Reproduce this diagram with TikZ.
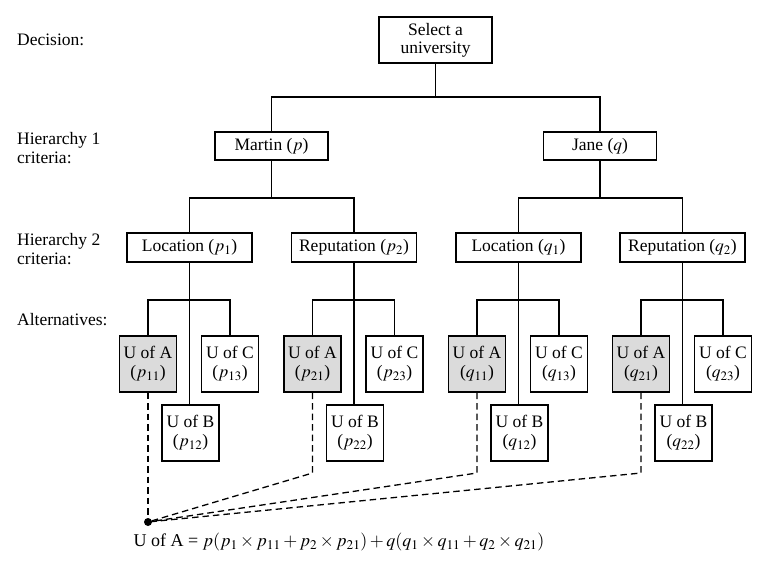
\documentclass[tikz,border=0pt]{standalone}
\usepackage{mathptmx}
\usepackage{fontspec}
\setmainfont{Liberation Serif}
\begin{document}
\begin{tikzpicture}[x=1pt,y=-1pt,
  every node/.style={font=\fontsize{17.5}{19}\selectfont},
  box/.style={draw,line width=1.3pt,inner sep=0pt,align=center},
  lvbox/.style={box,minimum width=113pt,minimum height=28pt},
  crbox/.style={box,minimum width=125pt,minimum height=29pt},
  altbox/.style={box,minimum width=57pt,minimum height=56pt},
  shaded/.style={fill=gray!28},
  link/.style={line width=1.3pt},
  dlink/.style={line width=1.3pt,dash pattern=on 6.5pt off 4pt},
  lab/.style={anchor=west,align=left,inner sep=0pt}]
\useasboundingbox (0,0) rectangle (764,573);

% row labels
\node[lab] (l0) at (17,40) {Decision:};
\node[lab] (l1) at (17,148) {Hierarchy 1\\criteria:};
\node[lab] (l2) at (17,249) {Hierarchy 2\\criteria:};
\node[lab] (l3) at (17,320) {Alternatives:};

% decision
\node[box,minimum width=113pt,minimum height=46pt,font=\fontsize{17.5}{18}\selectfont] (root) at (435.5,40) {Select a\\university};

% level 1
\node[lvbox] (martin) at (271.5,146) {Martin ($p$)};
\node[lvbox] (jane) at (600,146) {Jane ($q$)};

% level 2
\node[crbox] (lp1) at (189.5,247.5) {Location ($p_1$)};
\node[crbox] (rp2) at (354,247.5) {Reputation ($p_2$)};
\node[crbox] (lq1) at (518.5,247.5) {Location ($q_1$)};
\node[crbox] (rq2) at (682.5,247.5) {Reputation ($q_2$)};

% alternatives
\foreach \g/\c/\v/\i in {pa/189.5/p/1, pb/354/p/2, qa/518.5/q/1, qb/682.5/q/2}{
  \node[altbox,shaded] (\g A) at (\c-41.5,364) {U of A\\($\v_{\i1}$)};
  \node[altbox] (\g B) at (\c+1,433) {U of B\\($\v_{\i2}$)};
  \node[altbox] (\g C) at (\c+40.5,364) {U of C\\($\v_{\i3}$)};
}

% tree connectors
\coordinate (j0) at (435.5,97);
\draw[link] (root.south) -- (j0);
\draw[link] (martin.north) |- (j0) -| (jane.north);

\coordinate (jm) at (271.5,198);
\draw[link] (martin.south) -- (jm);
\draw[link] (lp1.north) |- (jm) -| (rp2.north);
\coordinate (jj) at (600,198);
\draw[link] (jane.south) -- (jj);
\draw[link] (lq1.north) |- (jj) -| (rq2.north);

\foreach \p/\g in {lp1/pa, rp2/pb, lq1/qa, rq2/qb}{
  \draw[link] (\p.south) -- (\p.south |- \g B.north);
  \draw[link] (\g A.north) |- (\p.south |- 0,300) -| (\g C.north);
}

% dashed links to the dot
\coordinate (dot) at (148,522);
\fill (dot) circle (4pt);
\draw[dlink] (paA.south) -- (dot);
\foreach \g in {pb, qa, qb}{
  \draw[dlink] (\g A.south) -- (\g A.south |- 0,473) -- (dot);
}

% formula
\node[font=\fontsize{18}{20}\selectfont] (formula) at (339,542) {U of A = $p(p_1\times p_{11}+p_2\times p_{21})+q(q_1\times q_{11}+q_2\times q_{21})$};
\end{tikzpicture}
\end{document}
